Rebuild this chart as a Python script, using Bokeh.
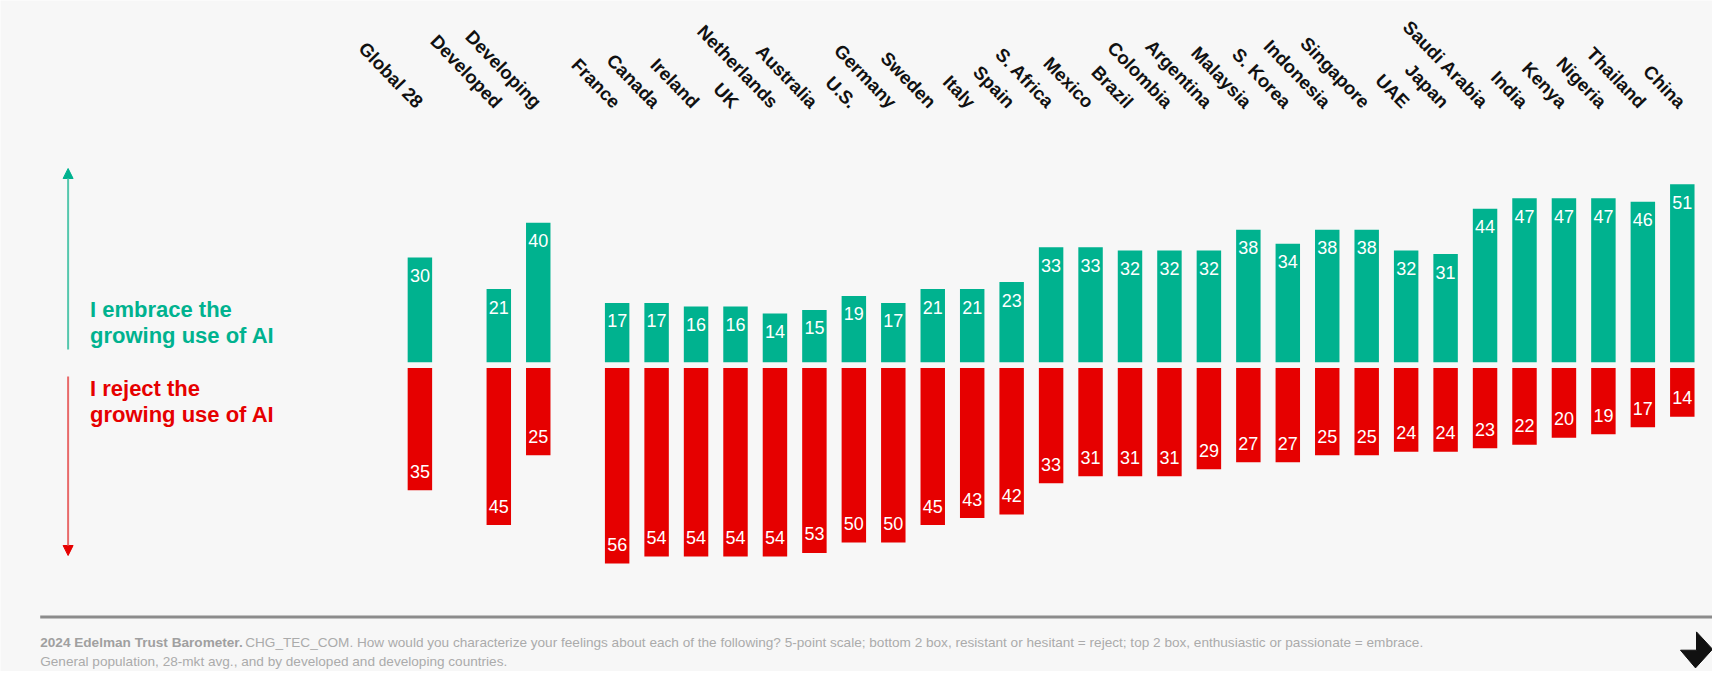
import math
from bokeh.plotting import figure
from bokeh.models import Arrow, NormalHead, ColumnDataSource, Range1d
from bokeh.core.properties import value
from bokeh.embed import file_html
from bokeh.resources import INLINE

# ---------------- data ----------------
categories = ["Global 28", "Developed", "Developing",
              "France", "Canada", "Ireland", "UK", "Netherlands", "Australia", "U.S.",
              "Germany", "Sweden", "Italy", "Spain", "S. Africa", "Mexico", "Brazil",
              "Colombia", "Argentina", "Malaysia", "S. Korea", "Indonesia", "Singapore",
              "UAE", "Japan", "Saudi Arabia", "India", "Kenya", "Nigeria", "Thailand", "China"]
groups = ["Global"] + ["Development"] * 2 + ["Market"] * 28
embrace = [30, 21, 40,
           17, 17, 16, 16, 14, 15, 19, 17, 21, 21, 23, 33, 33, 32, 32, 32, 38, 34, 38, 38,
           32, 31, 44, 47, 47, 47, 46, 51]
reject = [35, 45, 25,
          56, 54, 54, 54, 54, 53, 50, 50, 45, 43, 42, 33, 31, 31, 31, 29, 27, 27, 25, 25,
          24, 24, 23, 22, 20, 19, 17, 14]

embrace_label = ["I embrace the", "growing use of AI"]
reject_label = ["I reject the", "growing use of AI"]
footer_bold = "2024 Edelman Trust Barometer."
footer_rest = ("CHG_TEC_COM. How would you characterize your feelings about each of the following? "
               "5-point scale; bottom 2 box, resistant or hesitant = reject; top 2 box, "
               "enthusiastic or passionate = embrace.")
footer_line2 = "General population, 28-mkt avg., and by developed and developing countries."

# ---------------- style ----------------
GREEN = "#00b28f"
RED = "#e60000"
BG = "#f7f7f7"
FONT = value("Liberation Sans")

W, H = 1712, 671
X0, SLOT = 427.4, 39.45      # screen x of first slot, slot spacing (px)
Y0, UNIT = 372.65, 3.49      # screen y of zero line, px per percentage point
GAP = 2.85 / UNIT            # half gap between green and red bars


def sx(px):
    return (px - X0) / SLOT


def sy(py):
    return (Y0 - py) / UNIT


# slot positions with a blank slot between groups
xpos = []
slot = 0
prev = None
for g in groups:
    if prev is not None and g != prev:
        slot += 1
    xpos.append(slot)
    slot += 1
    prev = g

src = ColumnDataSource(dict(
    x=xpos, cat=categories,
    gtop=[GAP + v for v in embrace],
    rbot=[-GAP - v for v in reject],
    glab=[GAP + v - 18 / UNIT for v in embrace],
    rlab=[-GAP - v + 19 / UNIT for v in reject],
    gtxt=[str(v) for v in embrace],
    rtxt=[str(v) for v in reject],
))

p = figure(width=W, height=H, output_backend="svg", toolbar_location=None,
           x_range=Range1d(sx(8), sx(8 + W)), y_range=Range1d(sy(8 + H), sy(8)),
           x_axis_location=None, y_axis_location=None, min_border=0,
           background_fill_color=BG, border_fill_color=BG, outline_line_color=None)
p.grid.grid_line_color = None

# bars
p.vbar(x="x", width=0.62, bottom=GAP, top="gtop", source=src, fill_color=GREEN, line_color=None)
p.vbar(x="x", width=0.62, top=-GAP, bottom="rbot", source=src, fill_color=RED, line_color=None)

# value labels
p.text(x="x", y="glab", text="gtxt", source=src, text_color="white", text_font=FONT,
       text_font_size="18px", text_align="center", text_baseline="middle")
p.text(x="x", y="rlab", text="rtxt", source=src, text_color="white", text_font=FONT,
       text_font_size="18px", text_align="center", text_baseline="middle")

# category labels (rotated)
p.text(x="x", y=sy(112.5), text="cat", source=src, text_color="#111111", text_font=FONT,
       text_font_size="18.5px", text_font_style="bold", angle=-math.radians(46),
       text_align="right", text_baseline="alphabetic")

# left arrows
p.add_layout(Arrow(end=NormalHead(size=10, fill_color=GREEN, line_color=GREEN),
                   x_start=sx(75.6), y_start=sy(357), x_end=sx(75.6), y_end=sy(176),
                   line_color="#55c7ad", line_width=2))
p.add_layout(Arrow(end=NormalHead(size=10, fill_color=RED, line_color=RED),
                   x_start=sx(75.6), y_start=sy(384), x_end=sx(75.6), y_end=sy(563),
                   line_color="#e86a6a", line_width=2))

# left side labels
p.text(x=[sx(97.5)] * 2, y=[sy(316.7), sy(342.7)], text=embrace_label, text_color=GREEN,
       text_font=FONT, text_font_size="22px", text_font_style="bold",
       text_align="left", text_baseline="alphabetic")
p.text(x=[sx(97.5)] * 2, y=[sy(395.7), sy(421.7)], text=reject_label, text_color=RED,
       text_font=FONT, text_font_size="22px", text_font_style="bold",
       text_align="left", text_baseline="alphabetic")

# footer rule
p.segment(x0=[sx(47.7)], y0=[sy(624.4)], x1=[sx(1730)], y1=[sy(624.4)],
          line_color="#8c8c8c", line_width=3)

# footer notes
p.text(x=[sx(47.7)], y=[sy(649.8)], text=[footer_bold], text_color="#a0a0a0", text_font=FONT,
       text_font_size="13.6px", text_font_style="bold", text_align="left", text_baseline="middle")
p.text(x=[sx(47.7 + 205)], y=[sy(649.8)], text=[footer_rest], text_color="#ababab", text_font=FONT,
       text_font_size="13.6px", text_align="left", text_baseline="middle")
p.text(x=[sx(47.7)], y=[sy(668.8)], text=[footer_line2], text_color="#ababab", text_font=FONT,
       text_font_size="13.6px", text_align="left", text_baseline="middle")

# corner arrow icon
icon_px = [(1704, 639.4), (1720, 656.7), (1703, 675.4), (1688, 657.7), (1704, 657.7)]
p.patch(x=[sx(a) for a, b in icon_px], y=[sy(b) for a, b in icon_px],
        fill_color="#111111", line_color="#111111")

open("out.html", "w").write(file_html(p, INLINE))
